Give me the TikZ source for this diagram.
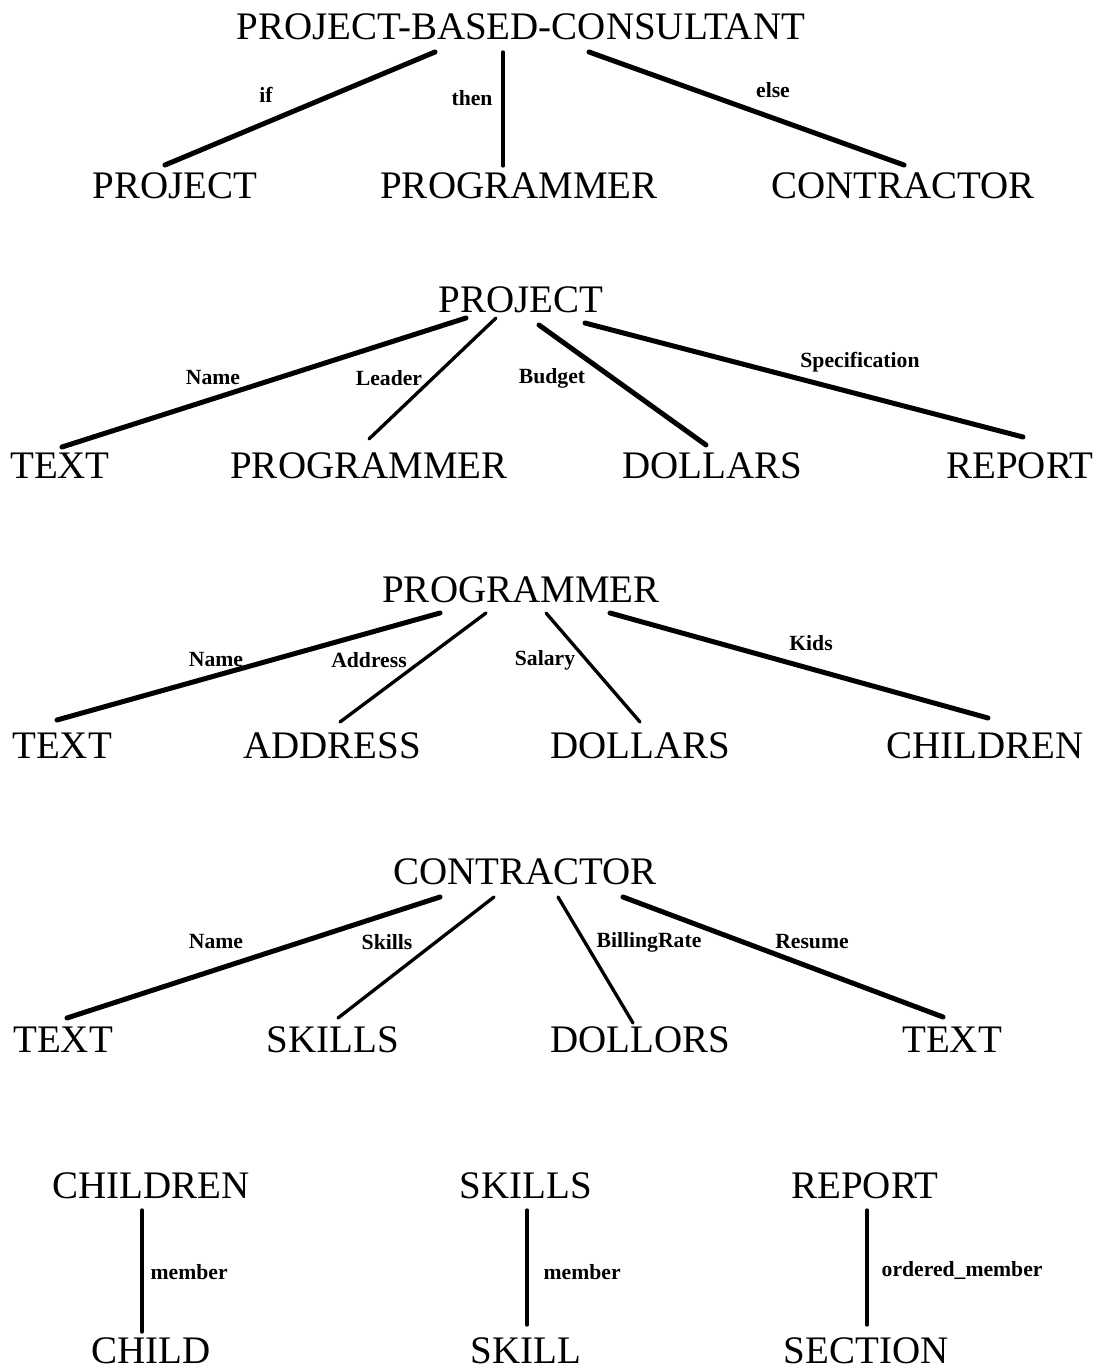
\documentclass[tikz,border=0pt]{standalone}
\usepackage{fontspec}
\setmainfont{Liberation Serif}
\tikzset{
  type/.style={inner sep=0pt, font=\fontsize{11.7}{14}\selectfont},
  lien/.style={inner sep=0pt, font=\fontsize{6.5}{8}\selectfont\bfseries},
  gros/.style={line width=1.5pt, line cap=round},
  fin/.style={line width=1pt, line cap=round}
}

\begin{document}
\begin{tikzpicture}[x=0.3pt,y=-0.3pt]
        \useasboundingbox (0,0) rectangle (1106,1370);
        % Arbre PROJECT-BASED-CONSULTANT
        \node[type] (pbc) at (521,27) {PROJECT-BASED-CONSULTANT};
        \node[type] (pbcA) at (175,186) {PROJECT};
        \node[type] (pbcB) at (519,186) {PROGRAMMER};
        \node[type] (pbcC) at (903,186) {CONTRACTOR};
        \coordinate (if1) at (435,52); \coordinate (if2) at (165,165);
        \coordinate (then1) at (503,52); \coordinate (then2) at (503,166);
        \coordinate (else1) at (589,52); \coordinate (else2) at (904,165);
        \draw[gros] (if1) -- (if2);
        \draw[fin] (then1) -- (then2);
        \draw[gros] (else1) -- (else2);
        \node[lien] (lif) at (266,95) {if};
        \node[lien] (lthen) at (472,98) {then};
        \node[lien] (lelse) at (773,90) {else};
        % Arbre PROJECT
        \node[type] (proj) at (521,300) {PROJECT};
        \node[type] (projA) at (60,466) {TEXT};
        \node[type] (projB) at (369,466) {PROGRAMMER};
        \node[type] (projC) at (712,466) {DOLLARS};
        \node[type] (projD) at (1020,466) {REPORT};
        \coordinate (pn1) at (466,318); \coordinate (pn2) at (62,447);
        \coordinate (pl1) at (496,318); \coordinate (pl2) at (369,439);
        \coordinate (pb1) at (539,325); \coordinate (pb2) at (706,445);
        \coordinate (ps1) at (585,323); \coordinate (ps2) at (1023,437);
        \draw[gros] (pn1) -- (pn2);
        \draw[fin] (pl1) -- (pl2);
        \draw[gros] (pb1) -- (pb2);
        \draw[gros] (ps1) -- (ps2);
        \node[lien] (lpn) at (213,378) {Name};
        \node[lien] (lpl) at (389,378) {Leader};
        \node[lien] (lpb) at (552,378) {Budget};
        \node[lien] (lps) at (860,362) {Specification};
        % Arbre PROGRAMMER
        \node[type] (prog) at (521,590) {PROGRAMMER};
        \node[type] (progA) at (62,746) {TEXT};
        \node[type] (progB) at (332,746) {ADDRESS};
        \node[type] (progC) at (640,746) {DOLLARS};
        \node[type] (progD) at (985,746) {CHILDREN};
        \coordinate (gn1) at (440,613); \coordinate (gn2) at (57,720);
        \coordinate (ga1) at (486,613); \coordinate (ga2) at (340,722);
        \coordinate (gs1) at (546,613); \coordinate (gs2) at (640,722);
        \coordinate (gk1) at (610,613); \coordinate (gk2) at (988,718);
        \draw[gros] (gn1) -- (gn2);
        \draw[fin] (ga1) -- (ga2);
        \draw[fin] (gs1) -- (gs2);
        \draw[gros] (gk1) -- (gk2);
        \node[lien] (lgn) at (216,660) {Name};
        \node[lien] (lga) at (369,660) {Address};
        \node[lien] (lgs) at (545,660) {Salary};
        \node[lien] (lgk) at (811,643) {Kids};
        % Arbre CONTRACTOR
        \node[type] (cont) at (525,872) {CONTRACTOR};
        \node[type] (contA) at (63,1040) {TEXT};
        \node[type] (contB) at (333,1040) {SKILLS};
        \node[type] (contC) at (640,1040) {DOLLORS};
        \node[type] (contD) at (952,1040) {TEXT};
        \coordinate (cn1) at (440,897); \coordinate (cn2) at (67,1018);
        \coordinate (ck1) at (494,897); \coordinate (ck2) at (338,1018);
        \coordinate (cb1) at (558,897); \coordinate (cb2) at (633,1023);
        \coordinate (cr1) at (623,897); \coordinate (cr2) at (943,1017);
        \draw[gros] (cn1) -- (cn2);
        \draw[fin] (ck1) -- (ck2);
        \draw[fin] (cb1) -- (cb2);
        \draw[gros] (cr1) -- (cr2);
        \node[lien] (lcn) at (216,942) {Name};
        \node[lien] (lck) at (387,942) {Skills};
        \node[lien] (lcb) at (649,942) {BillingRate};
        \node[lien] (lcr) at (812,942) {Resume};
        % Membres
        \node[type] (chil) at (151,1186) {CHILDREN};
        \node[type] (skil) at (526,1186) {SKILLS};
        \node[type] (rep) at (865,1186) {REPORT};
        \node[type] (child) at (151,1351) {CHILD};
        \node[type] (skill) at (526,1351) {SKILL};
        \node[type] (sect) at (866,1351) {SECTION};
        \coordinate (m1) at (142,1210); \coordinate (m2) at (142,1332);
        \coordinate (s1) at (527,1210); \coordinate (s2) at (527,1325);
        \coordinate (r1) at (867,1210); \coordinate (r2) at (867,1325);
        \draw[fin] (m1) -- (m2);
        \draw[fin] (s1) -- (s2);
        \draw[fin] (r1) -- (r2);
        \node[lien, anchor=west] (lm) at (150,1272) {member};
        \node[lien, anchor=west] (ls) at (543,1272) {member};
        \node[lien, anchor=west] (lr) at (881,1270) {ordered\_member};
    \end{tikzpicture}
\end{document}
